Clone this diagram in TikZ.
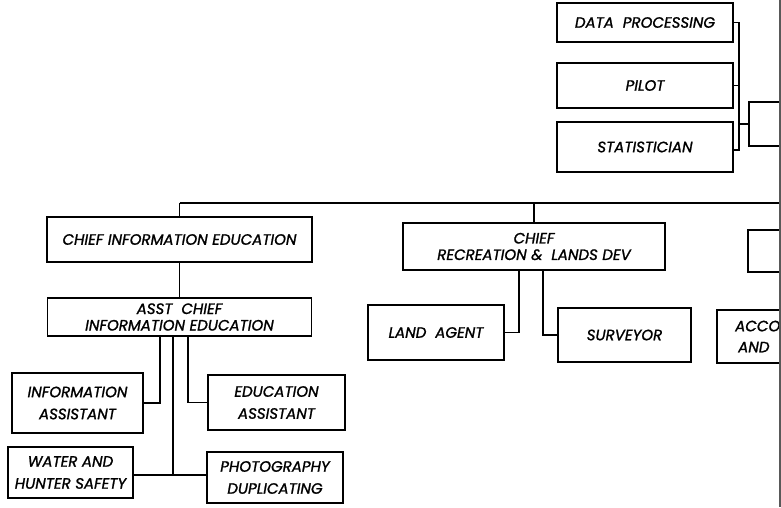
\documentclass[tikz,border=0pt]{standalone}
\usepackage{fontspec}
\setmainfont{Poppins}[ItalicFeatures={FakeBold=1.3}]
\usetikzlibrary{positioning}

\begin{document}
\begin{tikzpicture}[
  x=1pt, y=-1pt,
  unit/.style ={draw, line width=1.1pt, inner sep=2pt, align=center,
                font=\fontsize{15}{22}\selectfont\itshape},
  chief/.style={unit, font=\fontsize{15}{16.5}\selectfont\itshape},
  link/.style ={line width=1.1pt},
]
\useasboundingbox (0,0) rectangle (781,507);
\clip (0,0) rectangle (781,507);

%% ---- Top right: staff units ----
\node[unit, minimum width=176, minimum height=39] (dp)    at (645,22.5) {DATA\ \ PROCESSING};
\node[unit, minimum width=176, minimum height=45] (pilot) at (645,85.5) {PILOT};
\node[unit, minimum width=176, minimum height=50] (stat)  at (645,147)  {STATISTICIAN};
\node[unit, minimum width=60,  minimum height=44] (topr)  at (779,124)  {};

\coordinate (spt) at (739,22.5);
\coordinate (spb) at (739,150);
\draw[link] (dp.east) -- (spt) -- (spb) -- (stat.east |- spb);
\draw[link] (pilot.east) -- (pilot.east -| spt);
\draw[link] (topr.west -| spt) -- (topr.west);

%% ---- Main bus ----
\coordinate (busl) at (179.5,203);
\coordinate (busr) at (800,203);
\draw[link] (busl) -- (busr);

%% ---- Column 1: information education ----
\node[chief, minimum width=265, minimum height=45] (cie) at (179.5,239.5) {CHIEF INFORMATION EDUCATION};
\node[chief, minimum width=264, minimum height=38] (aci) at (179.5,317) {ASST\ \ CHIEF\\INFORMATION EDUCATION};
\node[unit, minimum width=131, minimum height=60] (ia)  at (77.5,403)  {INFORMATION\\ASSISTANT};
\node[unit, minimum width=137, minimum height=55] (ea)  at (276.5,402.5) {EDUCATION\\ASSISTANT};
\node[unit, minimum width=125, minimum height=51] (whs) at (70.5,472.5) {WATER AND\\HUNTER SAFETY};
\node[unit, minimum width=136, minimum height=51] (pd)  at (275,477.5) {PHOTOGRAPHY\\DUPLICATING};

\draw[link] (busl) -- (cie.north);
\draw[link] (cie.south) -- (aci.north);
\draw[link] ([xshift=-19.5]aci.south) |- (ia.east);
\draw[link] ([xshift=8.5]aci.south) |- (ea.west);
\coordinate (jct) at (173,475);
\draw[link] (aci.south -| jct) -- (jct);
\draw[link] (whs.east |- jct) -- (pd.west |- jct);

%% ---- Column 2: recreation & lands ----
\node[chief, minimum width=262, minimum height=47] (crl) at (534,246.5) {CHIEF\\RECREATION \&\ \ LANDS DEV};
\node[unit, minimum width=136, minimum height=55] (la) at (436,332.5) {LAND\ \ AGENT};
\node[unit, minimum width=133, minimum height=54] (sv) at (624.5,335) {SURVEYOR};

\draw[link] (crl.north |- busl) -- (crl.north);
\draw[link] ([xshift=-15]crl.south) |- (la.east);
\draw[link] ([xshift=9]crl.south) |- (sv.west);

%% ---- Column 3 (cut off at page edge) ----
\node[unit, minimum width=72, minimum height=42] (rbox) at (784,251) {};
\node[unit, minimum width=90, minimum height=53] (acc)  at (762,336.5) {};
\node[anchor=west, align=left, inner sep=0pt,
      font=\fontsize{15}{21}\selectfont\itshape] (acct) at (735,336.5) {ACCO\\\hspace{3pt}AND};

%% page edge
\draw[line width=2pt, black!65] (779.5,0) -- (779.5,507);
\end{tikzpicture}
\end{document}
